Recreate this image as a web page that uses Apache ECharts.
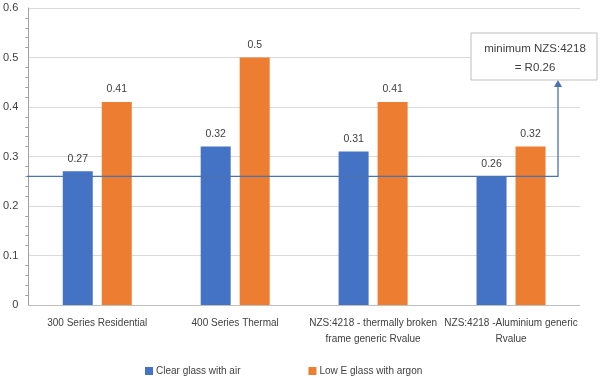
<!DOCTYPE html>
<html><head><meta charset="utf-8">
<script src="https://cdn.jsdelivr.net/npm/echarts@6/dist/echarts.min.js"></script>
<style>html,body{margin:0;padding:0;background:#fff}#c{width:600px;height:384px}</style>
</head><body><div id="c"></div>
<script>
const categories = ['300 Series Residential', '400 Series Thermal', 'NZS:4218 - thermally broken frame generic Rvalue', 'NZS:4218 -Aluminium generic Rvalue'];
const clearGlass = [0.27, 0.32, 0.31, 0.26];
const lowE = [0.41, 0.5, 0.41, 0.32];
const seriesNames = ['Clear glass with air', 'Low E glass with argon'];
const minimumValue = 0.26;
const annotationLines = ['minimum NZS:4218', '= R0.26'];
const FONT = '"Liberation Sans", sans-serif';

function wrap(text, maxChars) {
  const words = text.split(' ');
  const lines = [];
  let cur = '';
  for (const w of words) {
    const next = cur ? cur + ' ' + w : w;
    if (next.length > maxChars && cur) { lines.push(cur); cur = w; } else { cur = next; }
  }
  if (cur) lines.push(cur);
  return lines.join('\n');
}

const chart = echarts.init(document.getElementById('c'));
const labelStyle = {show: true, position: 'top', distance: 7, color: '#404040', fontSize: 10.5, fontFamily: FONT};
chart.setOption({
  animation: false,
  textStyle: {fontFamily: FONT},
  grid: {left: 27, right: 20, top: 8, bottom: 79},
  legend: {
    bottom: 3, left: 140, itemWidth: 8, itemHeight: 8, itemGap: 68,
    icon: 'rect',
    textStyle: {color: '#404040', fontSize: 10, fontFamily: FONT, padding: [0, 0, 0, -2]},
    data: seriesNames
  },
  xAxis: {
    type: 'category', data: categories,
    axisLine: {lineStyle: {color: '#bfbfbf'}},
    axisTick: {show: false},
    axisLabel: {color: '#404040', fontSize: 10, fontFamily: FONT, lineHeight: 16, margin: 10, interval: 0,
      formatter: v => wrap(v, 28)}
  },
  yAxis: {
    type: 'value', min: 0, max: 0.6, interval: 0.1,
    axisLine: {show: true, lineStyle: {color: '#a0a0a0'}},
    axisTick: {show: false},
    minorTick: {show: true, splitNumber: 5, length: 3, lineStyle: {color: '#a0a0a0'}},
    splitLine: {lineStyle: {color: '#d9d9d9'}},
    axisLabel: {color: '#404040', fontSize: 11, fontFamily: FONT, margin: 10}
  },
  series: [
    {name: seriesNames[0], type: 'bar', data: clearGlass, barWidth: 30, barGap: '30%', itemStyle: {color: '#4472C4'}, label: labelStyle},
    {name: seriesNames[1], type: 'bar', data: lowE, barWidth: 30, barGap: '30%', itemStyle: {color: '#ED7D31'}, label: labelStyle}
  ]
});

const y = chart.convertToPixel({yAxisIndex: 0}, minimumValue);
const left = 27, turnX = 558, boxBottom = 80;
chart.setOption({
  graphic: [
    {type: 'polyline', shape: {points: [[left, y], [turnX, y], [turnX, boxBottom + 6]]}, style: {stroke: '#4a72b0', lineWidth: 1.3, fill: null}, z: 100},
    {type: 'polygon', shape: {points: [[turnX - 4, boxBottom + 7], [turnX + 4, boxBottom + 7], [turnX, boxBottom]]}, style: {fill: '#4a72b0'}, z: 100},
    {type: 'rect', shape: {x: 471, y: 33, width: 126, height: 47}, style: {fill: '#fff', stroke: '#bfbfbf', lineWidth: 1}, z: 100},
    {type: 'text', x: 535, y: 58, style: {text: annotationLines.join('\n'), align: 'center', verticalAlign: 'middle', fill: '#404040', fontSize: 11.5, fontFamily: FONT, lineHeight: 19}, z: 101}
  ]
});
</script></body></html>
